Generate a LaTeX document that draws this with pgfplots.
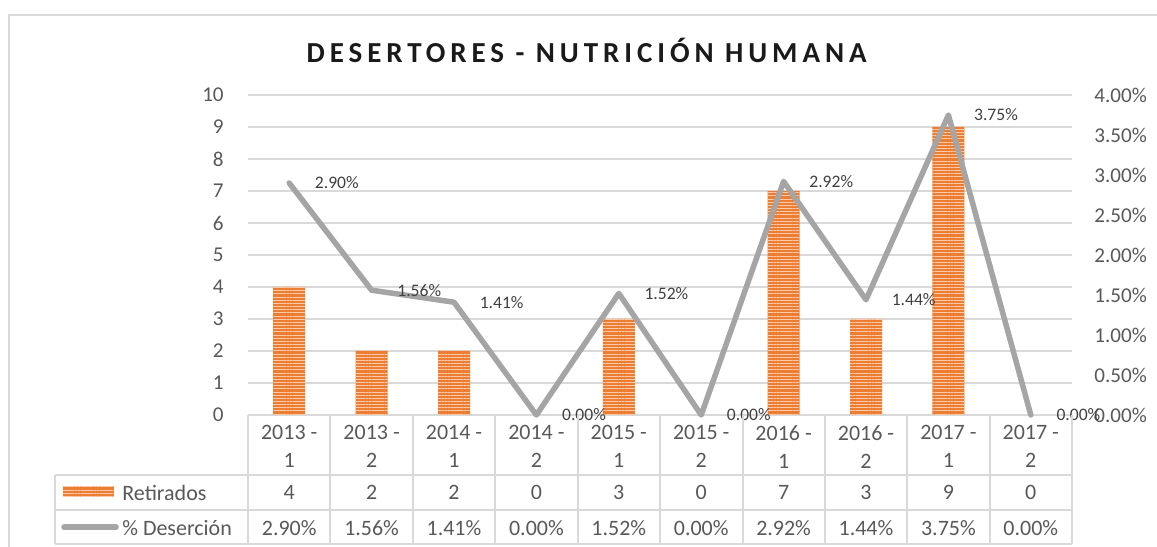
\documentclass[border=0pt]{standalone}
\usepackage{fontspec}
\setmainfont{Carlito}
\newfontfamily\titlefont[LetterSpace=17]{Carlito}
\usepackage{pgfplots}
\usepackage{pgfplotstable}
\pgfplotsset{compat=1.18}
\usetikzlibrary{patterns.meta}

\definecolor{gridgray}{HTML}{D9D9D9}
\definecolor{tickgray}{HTML}{595959}
\definecolor{labelgray}{HTML}{404040}
\definecolor{titlecol}{HTML}{1A1A1A}
\definecolor{barorange}{HTML}{ED7D31}
\definecolor{stripe}{HTML}{F8CBAD}
\definecolor{linegray}{HTML}{A5A5A5}

\pgfplotsset{/pgf/number format/assume math mode=true}

% periodo, retirados, % desercion
\pgfplotstableread{
x ret pct
0 4 2.90
1 2 1.56
2 2 1.41
3 0 0.00
4 3 1.52
5 0 0.00
6 7 2.92
7 3 1.44
8 9 3.75
9 0 0.00
}\datos

\tikzset{barfill/.style={fill=barorange, draw=none,
  postaction={pattern={Lines[angle=0,distance=1.8pt,line width=0.55pt]}, pattern color=stripe}}}

\begin{document}
\begin{tikzpicture}
\path[use as bounding box, fill=white] (0,0) rectangle (23.14cm,10.94cm);

\begin{axis}[
  at={(4.96cm,2.64cm)}, anchor=south west,
  scale only axis, width=16.48cm, height=6.4cm,
  xmin=-0.5, xmax=9.5, ymin=0, ymax=10,
  ytick={0,1,...,10},
  xtick={0,...,9},
  xticklabels={{2013 -\\1},{2013 -\\2},{2014 -\\1},{2014 -\\2},{2015 -\\1},{2015 -\\2},{2016 -\\1},{2016 -\\2},{2017 -\\1},{2017 -\\2}},
  xticklabel style={align=center, anchor=north, inner sep=0pt, yshift=-0.2cm,
    font=\fontsize{12.5}{16}\selectfont, text=tickgray},
  yticklabel style={anchor=east, inner sep=0pt, xshift=-0.48cm,
    font=\fontsize{12}{14}\selectfont, text=tickgray},
  ymajorgrids, grid style={draw=gridgray, line width=0.04cm},
  axis line style={draw=none}, tick style={draw=none},
  clip=false,
]
% barras vacias (valor 0) no se dibujan
\addplot[ybar, bar width=0.64cm, barfill, unbounded coords=discard,
  y filter/.expression={y==0 ? nan : y}] table[x=x, y=ret] {\datos};
% fila de valores de la tabla
\addplot[draw=none, mark=none, point meta={\thisrow{ret}},
  nodes near coords={\pgfmathprintnumber{\pgfplotspointmeta}},
  nodes near coords align=center,
  every node near coord/.append style={font=\fontsize{12.5}{14}\selectfont, text=tickgray}]
  table[x=x, y expr=-2.42] {\datos};
\addplot[draw=none, mark=none, point meta={\thisrow{pct}},
  nodes near coords={\pgfmathprintnumber[fixed,fixed zerofill,precision=2]{\pgfplotspointmeta}\%},
  nodes near coords align=center,
  every node near coord/.append style={font=\fontsize{12.5}{14}\selectfont, text=tickgray}]
  table[x=x, y expr=-3.52] {\datos};
\end{axis}

\begin{axis}[
  at={(4.96cm,2.64cm)}, anchor=south west,
  scale only axis, width=16.48cm, height=6.4cm,
  xmin=-0.5, xmax=9.5, ymin=0, ymax=4,
  axis y line*=right, hide x axis,
  ytick={0,0.5,...,4},
  yticklabel={\pgfmathprintnumber[fixed,fixed zerofill,precision=2]{\tick}\%},
  yticklabel style={anchor=west, inner sep=0pt, xshift=0.44cm,
    font=\fontsize{12}{14}\selectfont, text=tickgray},
  axis line style={draw=none}, tick style={draw=none},
  clip=false,
]
\addplot[linegray, line width=0.11cm, line cap=round, line join=round, mark=none,
  point meta=y,
  nodes near coords={\pgfmathprintnumber[fixed,fixed zerofill,precision=2]{\pgfplotspointmeta}\%},
  nodes near coords align=center,
  every node near coord/.append style={anchor=west, inner sep=0pt, xshift=0.46cm,
    font=\fontsize{10}{12}\selectfont, text=labelgray}]
  table[x=x, y=pct] {\datos};
\end{axis}

\begin{scope}[x=0.02cm, y=-0.02cm, shift={(0cm,10.94cm)}]
  % marco del grafico
  \draw[gridgray, line width=0.04cm] (9,547) -- (9,15) -- (1157,15);
  % tabla de datos
  \draw[gridgray, line width=0.04cm] (55,475) -- (1072,475) (55,510) -- (1072,510)
    (55,544) -- (1072,544) (55,475) -- (55,544);
  \foreach \k in {0,...,10}
    \draw[gridgray, line width=0.04cm] ({248+82.4*\k},415) -- ({248+82.4*\k},544);
  % leyenda
  \path[barfill] (63,486) rectangle (114,497);
  \draw[linegray, line width=0.11cm, line cap=round] (64,527) -- (116,527);
  \node[anchor=west, inner sep=0pt, text=tickgray, font=\fontsize{12.5}{14}\selectfont] at (122,492.5) {Retirados};
  \node[anchor=west, inner sep=0pt, text=tickgray, font=\fontsize{12.5}{14}\selectfont] at (122,527.5) {\% Deserción};
  % titulo
  \node[font=\titlefont\fontsize{16.5}{18}\selectfont\bfseries, text=titlecol] at (586.5,50) {DESERTORES - NUTRICIÓN HUMANA};
\end{scope}
\end{tikzpicture}
\end{document}
